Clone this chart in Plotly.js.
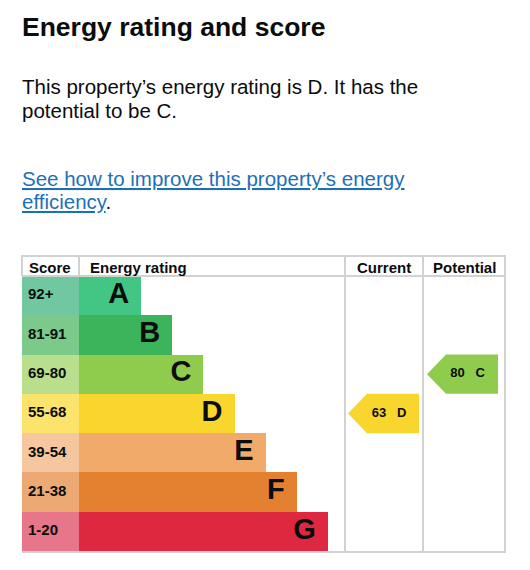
<!DOCTYPE html>
<html>
<head>
<meta charset="utf-8">
<script src="https://cdn.plot.ly/plotly-3.0.1.min.js"></script>
<style>
  html, body { margin: 0; padding: 0; background: #fff; }
  #chart { width: 530px; height: 570px; }
</style>
</head>
<body>
<div id="chart"></div>
<script>
// ---------- data ----------
const bands = ['A', 'B', 'C', 'D', 'E', 'F', 'G'];
const scoreRanges = ['92+', '81-91', '69-80', '55-68', '39-54', '21-38', '1-20'];
const barLengths = [2, 3, 4, 5, 6, 7, 8];
const currentScore = 63;
const currentBand = 'D';
const potentialScore = 80;
const potentialBand = 'C';

const headerLabels = ['Score', 'Energy rating', 'Current', 'Potential'];
const titleText = 'Energy rating and score';
const bodyLines = ['This property\u2019s energy rating is D. It has the', 'potential to be C.'];
const linkLines = ['See how to improve this property\u2019s energy', 'efficiency'];

// ---------- styles ----------
const bandColors = ['#43c684', '#3bb45c', '#8fcc4e', '#f9d62e', '#f0ab6a', '#e38130', '#de2840'];
const scoreColors = ['#70c7a0', '#7cc98c', '#b9de8c', '#fbe36c', '#f6c69e', '#eca974', '#e8768a'];
const FONT = 'Liberation Sans, Arial, Helvetica, sans-serif';
const INK = '#0b0c0c';
const LINE = '#d2d2d2';

// table geometry (pixels)
const W0 = 530, H0 = 570;
const L = 22, R = 505, T = 276, B = 551, HEAD_TOP = 256;
const COL_SCORE_END = 79, COL_RATING_END = 345, COL_CURRENT_END = 423;
const UNIT = 31.1; // px per bar-length unit
const PW = R - L, PH = B - T;
const px = v => (v - L) / PW;
const py = v => (B - v) / PH;

const yIdx = bands.map((b, i) => i);

// arrow polygon in a column axis (pixel units inside the column)
function arrow(idx, tip, right) {
  const notch = 19;
  return {
    x: [tip, tip + notch, right, right, tip + notch, tip],
    y: [idx, idx - 0.5, idx - 0.5, idx + 0.5, idx + 0.5, idx]
  };
}
const curIdx = bands.indexOf(currentBand);
const potIdx = bands.indexOf(potentialBand);
const curArrow = arrow(curIdx, 3, 74);
const potArrow = arrow(potIdx, 4, 75);

const traces = [
  // score column cells
  {
    type: 'bar', orientation: 'h', xaxis: 'x', yaxis: 'y',
    x: bands.map(() => COL_SCORE_END - L), y: yIdx, width: 1,
    marker: { color: scoreColors, line: { width: 0 } },
    hoverinfo: 'skip'
  },
  {
    type: 'scatter', mode: 'text', xaxis: 'x', yaxis: 'y',
    x: bands.map(() => 6), y: yIdx, text: scoreRanges,
    textposition: 'middle right',
    textfont: { family: FONT, size: 15, color: INK, weight: 700 },
    marker: { size: 0 }, hoverinfo: 'skip'
  },
  // energy rating bars
  {
    type: 'bar', orientation: 'h', xaxis: 'x2', yaxis: 'y',
    x: barLengths, y: yIdx, width: 1,
    marker: { color: bandColors, line: { width: 0 } },
    hoverinfo: 'skip'
  },
  {
    type: 'scatter', mode: 'text', xaxis: 'x2', yaxis: 'y',
    x: barLengths.map(v => v - 12 / UNIT), y: yIdx, text: bands,
    textposition: 'middle left',
    textfont: { family: FONT, size: 29, color: INK, weight: 700 },
    marker: { size: 0 }, hoverinfo: 'skip'
  },
  // current arrow
  {
    type: 'scatter', mode: 'lines', xaxis: 'x3', yaxis: 'y',
    x: curArrow.x, y: curArrow.y, fill: 'toself',
    fillcolor: bandColors[curIdx], line: { width: 0, color: bandColors[curIdx] },
    hoverinfo: 'skip'
  },
  {
    type: 'scatter', mode: 'text', xaxis: 'x3', yaxis: 'y',
    x: [(3 + 74) / 2 + 5.5], y: [curIdx],
    text: [currentScore + '\u00a0\u00a0\u00a0' + currentBand],
    textposition: 'middle center',
    textfont: { family: FONT, size: 13, color: INK, weight: 700 },
    hoverinfo: 'skip'
  },
  // potential arrow
  {
    type: 'scatter', mode: 'lines', xaxis: 'x4', yaxis: 'y',
    x: potArrow.x, y: potArrow.y, fill: 'toself',
    fillcolor: bandColors[potIdx], line: { width: 0, color: bandColors[potIdx] },
    hoverinfo: 'skip'
  },
  {
    type: 'scatter', mode: 'text', xaxis: 'x4', yaxis: 'y',
    x: [(4 + 75) / 2 + 5], y: [potIdx],
    text: [potentialScore + '\u00a0\u00a0\u00a0' + potentialBand],
    textposition: 'middle center',
    textfont: { family: FONT, size: 13, color: INK, weight: 700 },
    hoverinfo: 'skip'
  }
];

const hiddenAxis = extra => Object.assign({
  showgrid: false, zeroline: false, showticklabels: false, showline: false,
  ticks: '', fixedrange: true, anchor: 'y'
}, extra);

const shapes = [];
function hline(y, x0, x1) {
  shapes.push({ type: 'line', xref: 'paper', yref: 'paper', x0: px(x0), x1: px(x1), y0: py(y), y1: py(y),
    line: { color: LINE, width: 2 }, layer: 'above' });
}
function vline(x, y0, y1) {
  shapes.push({ type: 'line', xref: 'paper', yref: 'paper', x0: px(x), x1: px(x), y0: py(y0), y1: py(y1),
    line: { color: LINE, width: 2 }, layer: 'above' });
}
hline(HEAD_TOP, L - 1, R + 1);
hline(T, L, R);
hline(B + 1, L, R + 1);
vline(L, HEAD_TOP, T);
vline(COL_SCORE_END, HEAD_TOP, T);
vline(COL_RATING_END, HEAD_TOP, B + 1);
vline(COL_CURRENT_END, HEAD_TOP, B + 1);
vline(R, HEAD_TOP, B + 1);

const annotations = [];
function label(text, x, y, size, opts) {
  annotations.push(Object.assign({
    text: text, xref: 'paper', yref: 'paper', x: px(x), y: py(y),
    xanchor: 'left', yanchor: 'middle', showarrow: false,
    font: { family: FONT, size: size, color: INK }
  }, opts || {}));
}
const headY = 267;
label('<b>' + headerLabels[0] + '</b>', 27, headY, 15);
label('<b>' + headerLabels[1] + '</b>', 88, headY, 15);
label('<b>' + headerLabels[2] + '</b>', (COL_RATING_END + COL_CURRENT_END) / 2, headY, 15, { xanchor: 'center' });
label('<b>' + headerLabels[3] + '</b>', (COL_CURRENT_END + R) / 2, headY, 15, { xanchor: 'center' });

label('<b>' + titleText + '</b>', 20, 27, 26.5);
label(bodyLines[0], 20, 86, 20.5);
label(bodyLines[1], 20, 111, 20.5);
const LINK = '#1d70b8';
label('<span style="text-decoration:underline;color:' + LINK + '">' + linkLines[0] + '</span>', 20, 178, 20.5);
label('<span style="text-decoration:underline;color:' + LINK + '">' + linkLines[1] + '</span>.', 20, 201, 20.5);

const layout = {
  width: W0, height: H0, autosize: false,
  margin: { l: L, r: W0 - R, t: T, b: H0 - B, pad: 0 },
  paper_bgcolor: '#ffffff', plot_bgcolor: 'rgba(0,0,0,0)',
  showlegend: false, barmode: 'overlay', bargap: 0,
  xaxis: hiddenAxis({ domain: [0, px(COL_SCORE_END)], range: [0, COL_SCORE_END - L] }),
  xaxis2: hiddenAxis({ domain: [px(COL_SCORE_END), px(COL_RATING_END)], range: [0, (COL_RATING_END - COL_SCORE_END) / UNIT] }),
  xaxis3: hiddenAxis({ domain: [px(COL_RATING_END), px(COL_CURRENT_END)], range: [0, COL_CURRENT_END - COL_RATING_END] }),
  xaxis4: hiddenAxis({ domain: [px(COL_CURRENT_END), 1], range: [0, R - COL_CURRENT_END] }),
  yaxis: {
    range: [bands.length - 0.5, -0.5], showgrid: false, zeroline: false,
    showticklabels: false, ticks: '', fixedrange: true, domain: [0, 1]
  },
  shapes: shapes,
  annotations: annotations
};

Plotly.newPlot('chart', traces, layout, { displayModeBar: false, staticPlot: true });
</script>
</body>
</html>
